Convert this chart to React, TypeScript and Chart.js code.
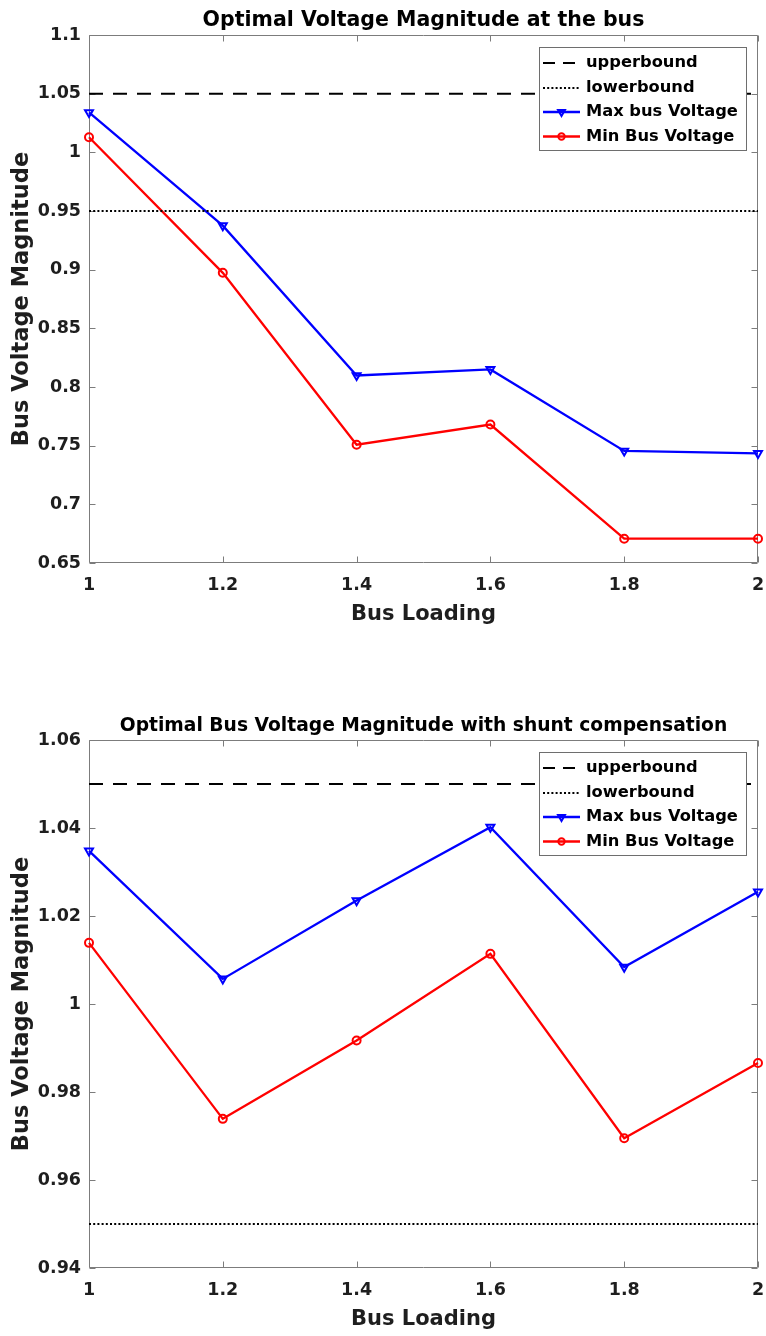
import React, { useEffect, useRef } from 'react';
import { Chart, registerables } from 'chart.js';

Chart.register(...registerables);

// ---------- data ----------
const loading = [1, 1.2, 1.4, 1.6, 1.8, 2];
const xTicks = [1, 1.2, 1.4, 1.6, 1.8, 2];
const xTickLabels = ['1', '1.2', '1.4', '1.6', '1.8', '2'];

const upperBound = 1.05;
const lowerBound = 0.95;

const maxV1 = [1.034, 0.9375, 0.8098, 0.815, 0.7455, 0.7435];
const minV1 = [1.0128, 0.8973, 0.7508, 0.768, 0.6707, 0.6707];
const yTicks1 = [0.65, 0.7, 0.75, 0.8, 0.85, 0.9, 0.95, 1, 1.05, 1.1];
const yTickLabels1 = ['0.65', '0.7', '0.75', '0.8', '0.85', '0.9', '0.95', '1', '1.05', '1.1'];

const maxV2 = [1.0348, 1.0057, 1.0235, 1.0402, 1.0084, 1.0255];
const minV2 = [1.0139, 0.9739, 0.9917, 1.0114, 0.9695, 0.9866];
const yTicks2 = [0.94, 0.96, 0.98, 1, 1.02, 1.04, 1.06];
const yTickLabels2 = ['0.94', '0.96', '0.98', '1', '1.02', '1.04', '1.06'];

const seriesLabels = ['upperbound', 'lowerbound', 'Max bus Voltage', 'Min Bus Voltage'];

// ---------- styles ----------
const FONT = "'DejaVu Sans', sans-serif";
const AXIS_COLOR = '#7c7c7c';
const TEXT_COLOR = '#1e1e1e';

const labelFor = (vals: number[], labels: string[]) => (v: any) => {
  const i = vals.findIndex((t) => Math.abs(t - Number(v)) < 1e-9);
  return i >= 0 ? labels[i] : '';
};

const axesBoxPlugin = {
  id: 'axesBox',
  beforeDatasetsDraw(chart: any) {
    const { ctx, chartArea, scales } = chart;
    const { left, right, top, bottom } = chartArea;
    const L = Math.round(left) + 0.5;
    const R = Math.round(right) - 0.5;
    const T = Math.round(top) + 0.5;
    const B = Math.round(bottom) - 0.5;
    ctx.save();
    ctx.strokeStyle = AXIS_COLOR;
    ctx.lineWidth = 1;
    ctx.setLineDash([]);
    ctx.beginPath();
    ctx.rect(L, T, R - L, B - T);
    const tl = 6;
    scales.x.ticks.forEach((t: any) => {
      const px = Math.round(scales.x.getPixelForValue(t.value)) + 0.5;
      ctx.moveTo(px, B);
      ctx.lineTo(px, B - tl);
      ctx.moveTo(px, T);
      ctx.lineTo(px, T + tl);
    });
    scales.y.ticks.forEach((t: any) => {
      const py = Math.round(scales.y.getPixelForValue(t.value)) + 0.5;
      ctx.moveTo(L, py);
      ctx.lineTo(L + tl, py);
      ctx.moveTo(R, py);
      ctx.lineTo(R - tl, py);
    });
    ctx.stroke();
    ctx.restore();
  },
};

function drawMarker(ctx: CanvasRenderingContext2D, style: string, x: number, y: number, r: number) {
  ctx.beginPath();
  if (style === 'circle') {
    ctx.arc(x, y, r, 0, Math.PI * 2);
  } else if (style === 'triangle') {
    // downward triangle
    ctx.moveTo(x, y + r);
    ctx.lineTo(x - r * 0.866, y - r * 0.5);
    ctx.lineTo(x + r * 0.866, y - r * 0.5);
    ctx.closePath();
  }
  ctx.stroke();
}

const legendPlugin = {
  id: 'matlabLegend',
  afterDraw(chart: any) {
    const { ctx, chartArea } = chart;
    const w = 207;
    const h = 103;
    const bx = Math.round(chartArea.right - 12 - w);
    const by = Math.round(chartArea.top + 12);
    const rows = [16, 41, 65, 89.5];
    ctx.save();
    ctx.fillStyle = '#ffffff';
    ctx.fillRect(bx, by, w, h);
    ctx.strokeStyle = '#6e6e6e';
    ctx.lineWidth = 1;
    ctx.setLineDash([]);
    ctx.strokeRect(bx + 0.5, by + 0.5, w, h);
    chart.data.datasets.forEach((ds: any, i: number) => {
      const y = by + rows[i];
      ctx.strokeStyle = ds.borderColor;
      ctx.lineWidth = ds.borderWidth;
      ctx.setLineDash(ds.legendDash || []);
      ctx.beginPath();
      ctx.moveTo(bx + 4, y);
      ctx.lineTo(bx + 41, y);
      ctx.stroke();
      ctx.setLineDash([]);
      if (ds.pointRadius > 0) {
        ctx.lineWidth = ds.pointBorderWidth;
        drawMarker(ctx, ds.pointStyle, bx + 22.5, y, ds.legendMarkerR);
      }
      ctx.fillStyle = '#000';
      ctx.font = `bold 16.3px ${FONT}`;
      ctx.textAlign = 'left';
      ctx.textBaseline = 'middle';
      ctx.fillText(ds.label, bx + 47, y);
    });
    ctx.restore();
  },
};

type PanelProps = {
  title: string;
  titleSize: number;
  titlePad: { top: number; bottom: number };
  yMin: number;
  yMax: number;
  yTicks: number[];
  yTickLabels: string[];
  maxData: number[];
  minData: number[];
  xHeight: number;
  xTitlePad: number;
};

function Panel(p: PanelProps) {
  const ref = useRef<HTMLCanvasElement | null>(null);
  useEffect(() => {
    if (!ref.current) return;
    const first = loading[0];
    const last = loading[loading.length - 1];
    const tickFont = { family: FONT, size: 17.5, weight: 'bold' as const };
    const chart = new Chart(ref.current, {
      type: 'line',
      data: {
        datasets: [
          {
            label: seriesLabels[0],
            data: [
              { x: first, y: upperBound },
              { x: last, y: upperBound },
            ],
            borderColor: '#000000',
            borderWidth: 2,
            borderDash: [14, 10],
            legendDash: [12, 8],
            pointRadius: 0,
            clip: false,
          } as any,
          {
            label: seriesLabels[1],
            data: [
              { x: first, y: lowerBound },
              { x: last, y: lowerBound },
            ],
            borderColor: '#000000',
            borderWidth: 2,
            borderDash: [2, 2.2],
            legendDash: [2, 2.2],
            pointRadius: 0,
          } as any,
          {
            label: seriesLabels[2],
            data: loading.map((x, i) => ({ x, y: p.maxData[i] })),
            borderColor: '#0000ff',
            borderWidth: 2.3,
            pointStyle: 'triangle',
            rotation: 180,
            pointRadius: 4.6,
            pointBorderWidth: 2,
            pointBorderColor: '#0000ff',
            pointBackgroundColor: 'rgba(0,0,0,0)',
            legendMarkerR: 4,
            clip: false,
          } as any,
          {
            label: seriesLabels[3],
            data: loading.map((x, i) => ({ x, y: p.minData[i] })),
            borderColor: '#ff0000',
            borderWidth: 2.3,
            pointStyle: 'circle',
            pointRadius: 4,
            pointBorderWidth: 2,
            pointBorderColor: '#ff0000',
            pointBackgroundColor: 'rgba(0,0,0,0)',
            legendMarkerR: 3.2,
            clip: false,
          } as any,
        ],
      },
      options: {
        animation: false,
        responsive: false,
        devicePixelRatio: 1,
        layout: { padding: { left: 0, right: 8, top: 0, bottom: 0 } },
        plugins: {
          legend: { display: false },
          tooltip: { enabled: false },
          title: {
            display: true,
            text: p.title,
            fullSize: false,
            color: '#000000',
            font: { family: FONT, size: p.titleSize, weight: 'bold' },
            padding: p.titlePad,
          },
        },
        scales: {
          x: {
            type: 'linear',
            min: first,
            max: last,
            afterBuildTicks: (s: any) => {
              s.ticks = xTicks.map((v) => ({ value: v }));
            },
            afterFit: (s: any) => {
              s.height = p.xHeight;
              s.paddingLeft = 0;
              s.paddingRight = 0;
            },
            ticks: {
              autoSkip: false,
              maxRotation: 0,
              padding: 12,
              color: TEXT_COLOR,
              font: tickFont,
              callback: labelFor(xTicks, xTickLabels),
            },
            grid: { display: false, drawTicks: false },
            border: { display: false },
            title: {
              display: true,
              text: 'Bus Loading',
              color: TEXT_COLOR,
              font: { family: FONT, size: 21, weight: 'bold' },
              padding: { top: 0, bottom: p.xTitlePad },
            },
          },
          y: {
            type: 'linear',
            min: p.yMin,
            max: p.yMax,
            afterBuildTicks: (s: any) => {
              s.ticks = p.yTicks.map((v) => ({ value: v }));
            },
            afterFit: (s: any) => {
              s.width = 89;
            },
            ticks: {
              autoSkip: false,
              padding: 8,
              color: TEXT_COLOR,
              font: tickFont,
              callback: labelFor(p.yTicks, p.yTickLabels),
            },
            grid: { display: false, drawTicks: false },
            border: { display: false },
            title: {
              display: true,
              text: 'Bus Voltage Magnitude',
              color: TEXT_COLOR,
              font: { family: FONT, size: 22.5, weight: 'bold' },
              padding: { top: 9, bottom: 0 },
            },
          },
        },
      } as any,
      plugins: [axesBoxPlugin, legendPlugin],
    });
    return () => chart.destroy();
  }, []);
  return <canvas ref={ref} width={766} height={668} style={{ display: 'block', width: 766, height: 668 }} />;
}

export default function App() {
  useEffect(() => {
    document.body.style.margin = '0';
    document.body.style.background = '#ffffff';
  }, []);
  return (
    <div style={{ width: 766, height: 1336, background: '#fff' }}>
      <Panel
        title="Optimal Voltage Magnitude at the bus"
        titleSize={20.5}
        titlePad={{ top: 8.2, bottom: 2.2 }}
        yMin={0.65}
        yMax={1.1}
        yTicks={yTicks1}
        yTickLabels={yTickLabels1}
        maxData={maxV1}
        minData={minV1}
        xHeight={105}
        xTitlePad={40.4}
      />
      <Panel
        title="Optimal Bus Voltage Magnitude with shunt compensation"
        titleSize={18.7}
        titlePad={{ top: 46.8, bottom: 2.76 }}
        yMin={0.94}
        yMax={1.06}
        yTicks={yTicks2}
        yTickLabels={yTickLabels2}
        maxData={maxV2}
        minData={minV2}
        xHeight={68}
        xTitlePad={3.4}
      />
    </div>
  );
}
